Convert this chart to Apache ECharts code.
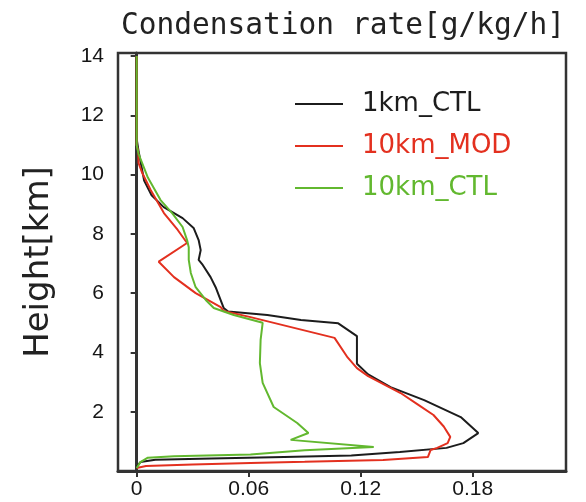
<!DOCTYPE html>
<html>
<head>
<meta charset="utf-8">
<script src="https://cdn.jsdelivr.net/npm/echarts@6/dist/echarts.min.js"></script>
<style>
    html, body { margin: 0; padding: 0; background: #fff; }
    #chart { width: 586px; height: 502px; }
</style>
</head>
<body>
<div id="chart"></div>
<script>
'use strict';
// profiles: condensation rate [g/kg/h] vs height [km]
const ctl1kmHeight = [14, 11.2, 10.8, 9.8, 9.3, 8.9, 8.53, 8.2, 7.79, 7.45, 7.12, 6.95, 6.54, 6.2, 5.5,
    5.38, 5.26, 5.09, 4.98, 4.55, 3.62, 3.26, 2.83, 2.39, 1.82, 1.28, 0.94, 0.78, 0.64, 0.52,
    0.47, 0.42, 0.38, 0.3, 0.15];
const ctl1kmRate = [0, 0, 0.001, 0.004, 0.008, 0.0145, 0.0246, 0.0305, 0.0332, 0.0343, 0.0332, 0.0354, 0.0396, 0.0423, 0.0466,
    0.049, 0.07, 0.088, 0.108, 0.118, 0.118, 0.124, 0.136, 0.154, 0.1736, 0.183, 0.175, 0.166, 0.141, 0.115,
    0.079, 0.04, 0.01, 0.002, 0];

const mod10kmHeight = [14, 11, 10.77, 10.39, 10.05, 9.48, 8.7, 8.13, 7.69, 7.06, 6.54, 6.0, 5.53, 5.4, 5.19,
    4.49, 3.83, 3.47, 3.2, 2.63, 2.25, 1.89, 1.5, 1.15, 0.94, 0.78, 0.71, 0.47, 0.37, 0.31,
    0.27, 0.22, 0.17, 0.1];
const mod10kmRate = [0, 0, 0.0009, 0.001, 0.003, 0.0075, 0.0146, 0.022, 0.027, 0.0118, 0.02, 0.0316, 0.045, 0.0466, 0.061,
    0.106, 0.113, 0.118, 0.124, 0.1414, 0.1505, 0.159, 0.1645, 0.168, 0.1666, 0.161, 0.1575, 0.156, 0.132, 0.09,
    0.061, 0.03, 0.005, 0];

const ctl10kmHeight = [14, 11.0, 10.7, 9.9, 9.14, 8.7, 8.23, 7.79, 7.55, 7.12, 6.68, 6.2, 5.77, 5.5, 5.26,
    5.0, 4.42, 3.64, 2.97, 2.16, 1.62, 1.28, 1.05, 0.81, 0.7, 0.56, 0.5, 0.45, 0.3, 0.1];
const ctl10kmRate = [0, 0, 0.001, 0.006, 0.0128, 0.019, 0.0246, 0.027, 0.0279, 0.0279, 0.029, 0.0316, 0.037, 0.0413, 0.052,
    0.0675, 0.0664, 0.066, 0.0675, 0.0734, 0.086, 0.092, 0.0825, 0.127, 0.09, 0.061, 0.02, 0.006, 0.002, 0];

const xTicks = [0, 0.06, 0.12, 0.18];
const yTicks = [2, 4, 6, 8, 10, 12, 14];
const seriesNames = ['1km_CTL', '10km_MOD', '10km_CTL'];

{
    let dom = document.getElementById('chart');
    let myChart = echarts.init(dom);
    let option = null;

    const colors = ['#1c1c1c', '#e3301f', '#62b82f'];
    const pairs = function (rate, height) {
        return rate.map(function (r, i) { return [r, height[i]]; });
    };
    const profiles = [
        pairs(ctl1kmRate, ctl1kmHeight),
        pairs(mod10kmRate, mod10kmHeight),
        pairs(ctl10kmRate, ctl10kmHeight)
    ];
    const labelFont = {
        fontFamily: 'Liberation Sans',
        fontSize: 21,
        color: '#151515'
    };

    option = {
        animation: false,
        title: {
            text: 'Condensation rate[g/kg/h]',
            left: 116,
            top: 6,
            textStyle: {
                fontFamily: 'DejaVu Sans Mono',
                fontWeight: 'normal',
                fontSize: 29.5,
                color: '#222'
            }
        },
        legend: {
            orient: 'vertical',
            left: 290,
            top: 86,
            itemWidth: 48,
            itemHeight: 2,
            itemGap: 16,
            icon: 'rect',
            selectedMode: false,
            textStyle: {
                fontFamily: 'DejaVu Sans',
                fontSize: 26,
                padding: [0, 0, 0, 14]
            },
            data: seriesNames.map(function (name, i) {
                return { name: name, textStyle: { color: colors[i] } };
            })
        },
        grid: {
            left: 118,
            right: 20,
            top: 53,
            bottom: 31,
            show: true,
            borderColor: '#333',
            borderWidth: 2.5
        },
        xAxis: {
            type: 'value',
            min: -0.01,
            max: 0.23,
            splitLine: { show: false },
            axisLine: { lineStyle: { color: '#333', width: 3 } },
            axisTick: {
                customValues: xTicks,
                length: 6,
                lineStyle: { color: '#333', width: 2 }
            },
            axisLabel: Object.assign({
                customValues: xTicks,
                margin: 8,
                formatter: function (v) { return String(v); }
            }, labelFont)
        },
        yAxis: {
            type: 'value',
            min: 0,
            max: 14.1,
            name: 'Height[km]',
            nameLocation: 'middle',
            nameRotate: 90,
            nameGap: 62,
            nameTextStyle: {
                fontFamily: 'DejaVu Sans',
                fontSize: 34,
                color: '#222'
            },
            splitLine: { show: false },
            axisLine: { lineStyle: { color: '#333', width: 3 } },
            axisTick: {
                customValues: yTicks,
                length: 6,
                lineStyle: { color: '#333', width: 2 }
            },
            axisLabel: Object.assign({
                customValues: yTicks,
                margin: 14
            }, labelFont)
        },
        series: seriesNames.map(function (name, i) {
            return {
                name: name,
                type: 'line',
                data: profiles[i],
                showSymbol: false,
                color: colors[i],
                lineStyle: { width: 2, color: colors[i] },
                z: 2 + i
            };
        })
    };

    if (option && typeof option === 'object') {
        myChart.setOption(option, true);
    }
}
</script>
</body>
</html>
